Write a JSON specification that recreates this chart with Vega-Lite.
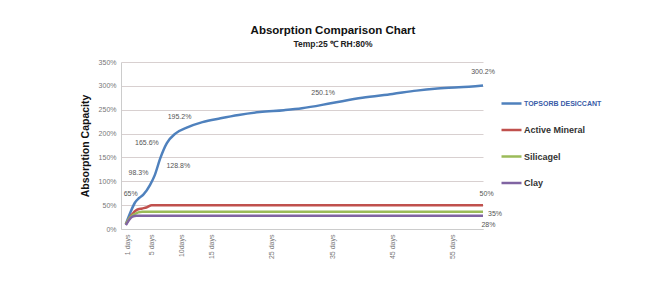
{
  "$schema": "https://vega.github.io/schema/vega-lite/v6.json",
  "width": 362,
  "height": 167,
  "autosize": "none",
  "padding": {"left": 121, "top": 62, "right": 168, "bottom": 62},
  "background": "white",
  "config": {"font": "Liberation Sans", "view": {"stroke": null}},
  "title": {
    "text": "Absorption Comparison Chart",
    "subtitle": "Temp:25 ℃ RH:80%",
    "fontSize": 11.5,
    "fontWeight": "bold",
    "color": "#111111",
    "subtitleFontSize": 8.5,
    "subtitleFontWeight": "bold",
    "subtitleColor": "#222222",
    "subtitlePadding": 3,
    "anchor": "middle",
    "dx": 31,
    "offset": 10
  },
  "datasets": {
    "series": [
      {"series": "TOPSORB DESICCANT", "day": 0.8, "pct": 10},
      {"series": "TOPSORB DESICCANT", "day": 1.5, "pct": 33},
      {"series": "TOPSORB DESICCANT", "day": 2.3, "pct": 55},
      {"series": "TOPSORB DESICCANT", "day": 3.0, "pct": 65},
      {"series": "TOPSORB DESICCANT", "day": 3.7, "pct": 72},
      {"series": "TOPSORB DESICCANT", "day": 4.8, "pct": 92},
      {"series": "TOPSORB DESICCANT", "day": 5.6, "pct": 113},
      {"series": "TOPSORB DESICCANT", "day": 6.5, "pct": 148},
      {"series": "TOPSORB DESICCANT", "day": 7.6, "pct": 180},
      {"series": "TOPSORB DESICCANT", "day": 9.0, "pct": 200},
      {"series": "TOPSORB DESICCANT", "day": 11.0, "pct": 213},
      {"series": "TOPSORB DESICCANT", "day": 13.5, "pct": 224},
      {"series": "TOPSORB DESICCANT", "day": 16.5, "pct": 232},
      {"series": "TOPSORB DESICCANT", "day": 19.5, "pct": 239},
      {"series": "TOPSORB DESICCANT", "day": 23.0, "pct": 245},
      {"series": "TOPSORB DESICCANT", "day": 27.0, "pct": 249},
      {"series": "TOPSORB DESICCANT", "day": 30.0, "pct": 253},
      {"series": "TOPSORB DESICCANT", "day": 35.0, "pct": 264},
      {"series": "TOPSORB DESICCANT", "day": 40.0, "pct": 275},
      {"series": "TOPSORB DESICCANT", "day": 45.0, "pct": 283},
      {"series": "TOPSORB DESICCANT", "day": 49.0, "pct": 290},
      {"series": "TOPSORB DESICCANT", "day": 52.0, "pct": 294},
      {"series": "TOPSORB DESICCANT", "day": 56.0, "pct": 297},
      {"series": "TOPSORB DESICCANT", "day": 60.0, "pct": 301},
      {"series": "Active Mineral", "day": 0.8, "pct": 10},
      {"series": "Active Mineral", "day": 1.8, "pct": 30},
      {"series": "Active Mineral", "day": 2.6, "pct": 40},
      {"series": "Active Mineral", "day": 3.5, "pct": 43},
      {"series": "Active Mineral", "day": 4.2, "pct": 45},
      {"series": "Active Mineral", "day": 5.1, "pct": 50},
      {"series": "Active Mineral", "day": 60.0, "pct": 50},
      {"series": "Silicagel", "day": 0.8, "pct": 10},
      {"series": "Silicagel", "day": 1.5, "pct": 24},
      {"series": "Silicagel", "day": 2.2, "pct": 31},
      {"series": "Silicagel", "day": 3.5, "pct": 36},
      {"series": "Silicagel", "day": 60.0, "pct": 36},
      {"series": "Clay", "day": 0.8, "pct": 8},
      {"series": "Clay", "day": 1.4, "pct": 20},
      {"series": "Clay", "day": 1.9, "pct": 26},
      {"series": "Clay", "day": 2.6, "pct": 28},
      {"series": "Clay", "day": 60.0, "pct": 28}
    ],
    "labels": [
      {"day": 1.6, "pct": 73, "text": "65%"},
      {"day": 2.9, "pct": 117, "text": "98.3%"},
      {"day": 4.3, "pct": 180, "text": "165.6%"},
      {"day": 9.5, "pct": 133, "text": "128.8%"},
      {"day": 9.7, "pct": 234, "text": "195.2%"},
      {"day": 33.5, "pct": 286, "text": "250.1%"},
      {"day": 60.0, "pct": 328, "text": "300.2%"},
      {"day": 60.6, "pct": 73, "text": "50%"},
      {"day": 62.0, "pct": 31, "text": "35%"},
      {"day": 60.9, "pct": 8, "text": "28%"}
    ]
  },
  "encoding": {
    "x": {
      "field": "day",
      "type": "quantitative",
      "scale": {"domain": [0, 60], "nice": false},
      "axis": {
        "values": [1, 5, 10, 15, 25, 35, 45, 55],
        "labelExpr": "datum.value == 10 ? '10days' : datum.value + ' days'",
        "labelAngle": -90,
        "labelFontSize": 7,
        "labelColor": "#777777",
        "labelPadding": 5,
        "labelOverlap": false,
        "ticks": false,
        "grid": false,
        "title": null,
        "domainColor": "#cccccc"
      }
    },
    "y": {
      "field": "pct",
      "type": "quantitative",
      "scale": {"domain": [0, 350], "nice": false},
      "axis": {
        "values": [0, 50, 100, 150, 200, 250, 300, 350],
        "labelExpr": "datum.value + '%'",
        "labelFontSize": 7,
        "labelColor": "#777777",
        "labelPadding": 5,
        "labelOverlap": false,
        "ticks": false,
        "domainColor": "#cccccc",
        "gridColor": "#d8d0d0",
        "title": "Absorption Capacity",
        "titleFontSize": 10.5,
        "titleFontWeight": "bold",
        "titleColor": "#111111",
        "titlePadding": 8
      }
    }
  },
  "layer": [
    {
      "data": {"name": "series"},
      "mark": {"type": "line", "interpolate": "monotone", "strokeWidth": 2.5},
      "encoding": {
        "color": {
          "field": "series",
          "type": "nominal",
          "scale": {
            "domain": ["TOPSORB DESICCANT", "Active Mineral", "Silicagel", "Clay"],
            "range": ["#4f81bd", "#c0504d", "#9bbb59", "#8064a2"]
          },
          "legend": {
            "orient": "none",
            "legendX": 379,
            "legendY": 30,
            "title": null,
            "symbolType": "stroke",
            "symbolSize": 400,
            "symbolStrokeWidth": 2.5,
            "labelFontSize": 9,
            "labelFontWeight": "bold",
            "labelColor": "#333333",
            "labelOffset": 1,
            "rowPadding": 9.5,
            "encode": {
              "labels": {
                "update": {
                  "fill": {"signal": "datum.label == 'TOPSORB DESICCANT' ? '#3a5ca8' : '#333333'"},
                  "fontSize": {"signal": "datum.label == 'TOPSORB DESICCANT' ? 7 : 9"}
                }
              }
            }
          }
        },
        "order": {"field": "day", "type": "quantitative"}
      }
    },
    {
      "data": {"name": "labels"},
      "mark": {"type": "text", "fontSize": 7, "color": "#555555", "align": "center", "baseline": "middle"},
      "encoding": {
        "text": {"field": "text"}
      }
    }
  ]
}
